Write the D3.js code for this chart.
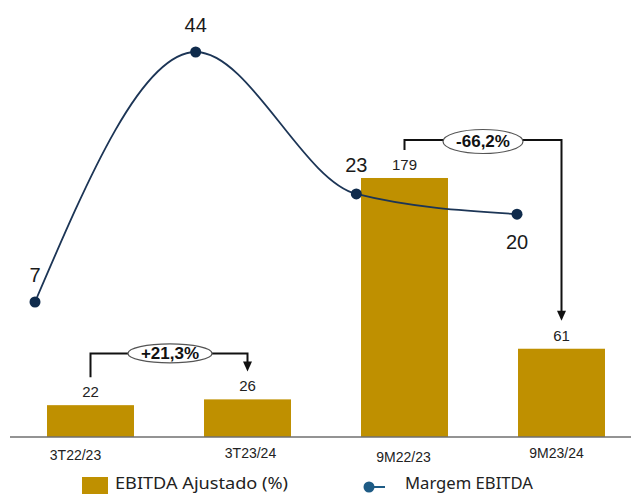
<!DOCTYPE html>
<html>
<head>
<meta charset="utf-8">
<script src="https://cdn.jsdelivr.net/npm/d3@7/dist/d3.min.js"></script>
<style>
  html, body { margin: 0; padding: 0; background: #fff; }
  svg { display: block; font-family: "Liberation Sans", Arial, sans-serif; }
</style>
</head>
<body>
<svg id="chart" width="631" height="494"></svg>
<script>
// Periods on the horizontal axis
const categories = ["3T22/23", "3T23/24", "9M22/23", "9M23/24"];
// EBITDA Ajustado (bars)
const ebitdaValues = [22, 26, 179, 61];
// Margem EBITDA (line, %)
const marginValues = [7, 44, 23, 20];
// Period-over-period comparisons drawn as brackets
const comparisonFrom = [0, 2];
const comparisonTo = [1, 3];
const comparisonLabels = ["+21,3%", "-66,2%"];
// Legend entries
const legendLabels = ["EBITDA Ajustado (%)", "Margem EBITDA"];

// Layout constants
const W = 631, H = 494;
const baseline = 437;
const barColor = "#bf9000";
const lineColor = "#1c3556";
const dotColor = "#0f2b4c";
const tickNudgeX = [-15, 3, -1, -5];
const tickNudgeY = [0, -2, 2, -2];
const marginLabelDy = [-20, -20, -22, 35];
const bracketRise = [46, 38];
const legendTextLength = [173, 128];

const svg = d3.select("#chart");

const x = d3.scaleBand()
  .domain(categories)
  .range([12, 640])
  .paddingInner(0.446)
  .paddingOuter(0.223);

const y = d3.scaleLinear().domain([0, 200]).range([baseline, baseline - 289.4]);

const xLine = d3.scalePoint().domain(categories).range([35, 517]);
const yLine = d3.scaleLinear().domain([0, 50]).range([349.3, 11.45]);

// Bars
svg.append("g").selectAll("rect")
  .data(ebitdaValues)
  .join("rect")
  .attr("x", (d, i) => x(categories[i]))
  .attr("y", d => y(d))
  .attr("width", x.bandwidth())
  .attr("height", d => baseline - y(d))
  .attr("fill", barColor);

// Bar value labels
svg.append("g").selectAll("text")
  .data(ebitdaValues)
  .join("text")
  .attr("x", (d, i) => x(categories[i]) + x.bandwidth() / 2)
  .attr("y", d => y(d) - 8)
  .attr("text-anchor", "middle")
  .attr("font-size", 15)
  .attr("fill", "#222")
  .text(d => d);

// Category axis
const axis = svg.append("g").attr("transform", `translate(0,${baseline})`)
  .call(d3.axisBottom(x).tickSize(0).tickPadding(0));
axis.select(".domain").remove();
axis.append("line")
  .attr("x1", 10).attr("x2", W).attr("y1", 0).attr("y2", 0)
  .attr("stroke", "#6f6f6f").attr("stroke-width", 1.5);
axis.selectAll(".tick text")
  .attr("font-size", 14)
  .attr("font-family", "Liberation Sans, Arial, sans-serif")
  .attr("fill", "#222")
  .attr("dy", 0)
  .attr("y", (d, i) => 23 + tickNudgeY[i])
  .attr("x", (d, i) => tickNudgeX[i]);

// Margin line
const line = d3.line()
  .x((d, i) => xLine(categories[i]))
  .y(d => yLine(d))
  .curve(d3.curveMonotoneX);

svg.append("path")
  .datum(marginValues)
  .attr("d", line)
  .attr("fill", "none")
  .attr("stroke", lineColor)
  .attr("stroke-width", 1.8);

svg.append("g").selectAll("circle")
  .data(marginValues)
  .join("circle")
  .attr("cx", (d, i) => xLine(categories[i]))
  .attr("cy", d => yLine(d))
  .attr("r", 5.5)
  .attr("fill", dotColor);

svg.append("g").selectAll("text")
  .data(marginValues)
  .join("text")
  .attr("x", (d, i) => xLine(categories[i]))
  .attr("y", (d, i) => yLine(d) + marginLabelDy[i])
  .attr("text-anchor", "middle")
  .attr("font-size", 20)
  .attr("fill", "#1a1a1a")
  .text(d => d);

// Comparison brackets
comparisonLabels.forEach((label, k) => {
  const a = comparisonFrom[k], b = comparisonTo[k];
  const xa = x(categories[a]) + x.bandwidth() / 2;
  const xb = x(categories[b]) + x.bandwidth() / 2;
  const ya = y(ebitdaValues[a]) - 28;
  const yb = y(ebitdaValues[b]) - 28;
  const level = y(Math.max(ebitdaValues[a], ebitdaValues[b])) - bracketRise[k];
  const g = svg.append("g");
  g.append("path")
    .attr("d", `M${xa},${ya}V${level}H${xb}V${yb - 8}`)
    .attr("fill", "none")
    .attr("stroke", "#111")
    .attr("stroke-width", 2);
  g.append("path")
    .attr("d", `M${xb - 4.5},${yb - 10}L${xb + 4.5},${yb - 10}L${xb},${yb}Z`)
    .attr("fill", "#111");
  const cx = (xa + xb) / 2 + (k === 0 ? 1 : 0);
  const cy = level + (k === 0 ? 0 : 1.5);
  g.append("ellipse")
    .attr("cx", cx).attr("cy", cy)
    .attr("rx", k === 0 ? 42 : 40)
    .attr("ry", k === 0 ? 9.5 : 12)
    .attr("fill", "#fff")
    .attr("stroke", "#555")
    .attr("stroke-width", 1.2);
  g.append("text")
    .attr("x", cx).attr("y", cy + 6)
    .attr("text-anchor", "middle")
    .attr("font-size", 17)
    .attr("font-weight", "bold")
    .attr("fill", "#111")
    .text(label);
});

// Legend
const legend = svg.append("g");
legend.append("rect")
  .attr("x", 82).attr("y", 477).attr("width", 26).attr("height", 20)
  .attr("fill", barColor);
legend.append("text")
  .attr("x", 115).attr("y", 489)
  .attr("font-size", 17)
  .attr("font-family", "'Noto Sans', 'Liberation Sans', sans-serif")
  .attr("fill", "#222")
  .attr("textLength", legendTextLength[0])
  .attr("lengthAdjust", "spacingAndGlyphs")
  .text(legendLabels[0]);
legend.append("line")
  .attr("x1", 370).attr("x2", 385).attr("y1", 487).attr("y2", 487)
  .attr("stroke", "#1e5b85").attr("stroke-width", 2);
legend.append("circle")
  .attr("cx", 369).attr("cy", 487).attr("r", 5.5)
  .attr("fill", "#1e5b85");
legend.append("text")
  .attr("x", 405).attr("y", 489)
  .attr("font-size", 17)
  .attr("font-family", "'Noto Sans', 'Liberation Sans', sans-serif")
  .attr("fill", "#222")
  .attr("textLength", legendTextLength[1])
  .attr("lengthAdjust", "spacingAndGlyphs")
  .text(legendLabels[1]);
</script>
</body>
</html>
